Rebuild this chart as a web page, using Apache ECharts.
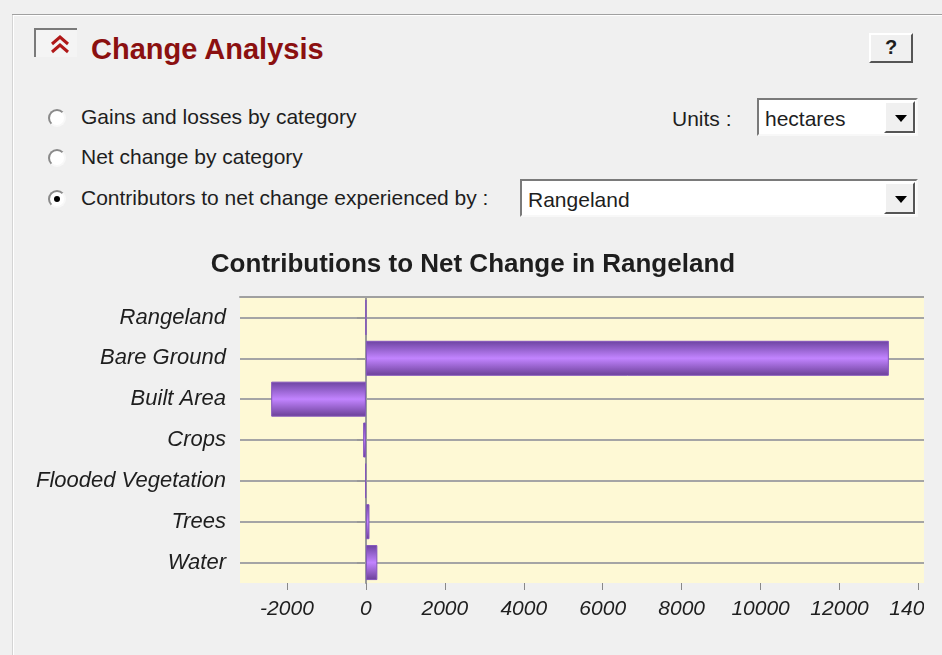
<!DOCTYPE html>
<html>
<head>
<meta charset="utf-8">
<title>Change Analysis</title>
<script src="https://cdn.jsdelivr.net/npm/echarts@6.0.0/dist/echarts.min.js"></script>
<style>
    html, body { margin:0; padding:0; }
    body { width:942px; height:655px; background:#f0f0f0; position:relative; overflow:hidden;
           font-family:"Liberation Sans", Arial, sans-serif; color:#1e1e1e; }
    .abs { position:absolute; }
    #topLine { left:12px; top:14px; width:930px; height:1px; background:#a0a0a0; border-bottom:1px solid #fff; }
    #leftLine { left:12px; top:15px; width:1px; height:640px; background:#d4d4d4; border-right:1px solid #fff; }
    #collapse { left:34px; top:28px; width:41px; height:27px; border-top:2px solid #7a7a7a; border-left:2px solid #7a7a7a; background:#f4f4f4; }
    #panelTitle { left:91px; top:33px; font-size:29px; font-weight:bold; color:#8b1010; }
    .radio { width:14px; height:14px; border-radius:50%; background:#fff; border:2px solid; border-color:#8a8a8a #f8f8f8 #f8f8f8 #8a8a8a; }
    .dot { left:4px; top:4px; width:6px; height:6px; border-radius:50%; background:#000; }
    .opt { font-size:21px; }
    .box { background:#fff; border:2px solid; border-color:#7a7a7a #f8f8f8 #f8f8f8 #7a7a7a; box-sizing:border-box; }
    .drop { top:1px; right:1px; width:31px; bottom:1px; background:#f0f0f0; box-sizing:border-box;
            border:2px solid; border-color:#fff #555 #555 #fff; }
    .tri { left:9px; top:12px; width:0; height:0; border-left:6px solid transparent; border-right:6px solid transparent; border-top:7px solid #000; }
    #help { left:869px; top:33px; width:44px; height:30px; box-sizing:border-box; background:#f0f0f0;
            border:2px solid; border-color:#fff #555 #555 #fff; text-align:center; font-weight:bold; font-size:20px; line-height:25px; }
    #chart { left:0; top:0; width:924px; height:655px; }
</style>
</head>
<body>
<div id="topLine" class="abs"></div>
<div id="leftLine" class="abs"></div>
<div id="collapse" class="abs">
    <svg width="41" height="27" style="position:absolute;left:0;top:0">
        <polyline points="16,14 24,7 32,14" fill="none" stroke="#b01818" stroke-width="3"/>
        <polyline points="16,22 24,15 32,22" fill="none" stroke="#b01818" stroke-width="3"/>
    </svg>
</div>
<div id="panelTitle" class="abs">Change Analysis</div>
<div id="help" class="abs">?</div>

<div class="abs radio" style="left:48px;top:109px"></div>
<div class="abs opt" style="left:81px;top:105px">Gains and losses by category</div>
<div class="abs radio" style="left:48px;top:149px"></div>
<div class="abs opt" style="left:81px;top:145px">Net change by category</div>
<div class="abs radio" style="left:48px;top:190px"><div class="abs dot"></div></div>
<div class="abs opt" style="left:81px;top:186px">Contributors to net change experienced by :</div>

<div class="abs opt" style="left:672px;top:107px">Units :</div>
<div class="abs box" style="left:757px;top:98px;width:161px;height:38px">
    <div class="abs opt" style="left:6px;top:7px">hectares</div>
    <div class="abs drop"><div class="abs tri"></div></div>
</div>
<div class="abs box" style="left:520px;top:179px;width:398px;height:38px">
    <div class="abs opt" style="left:6px;top:7px">Rangeland</div>
    <div class="abs drop"><div class="abs tri"></div></div>
</div>

<div id="chart" class="abs"></div>

<script>
var categories = ['Rangeland', 'Bare Ground', 'Built Area', 'Crops', 'Flooded Vegetation', 'Trees', 'Water'];
var netChange = [0, 13250, -2400, -70, -15, 90, 290];
var xTicks = [-2000, 0, 2000, 4000, 6000, 8000, 10000, 12000, 14000];
var xMin = -3190;
var xMax = 14140;

var chart = echarts.init(document.getElementById('chart'));

// purple "tube" look of the bars
var barColor = new echarts.graphic.LinearGradient(0, 0, 0, 1, [
    {offset: 0, color: '#6c43a0'},
    {offset: 0.5, color: '#c284ff'},
    {offset: 1, color: '#6a3f96'}
]);

var option = {
    animation: false,
    title: {
        text: 'Contributions to Net Change in Rangeland',
        left: 473,
        top: 252,
        textAlign: 'center',
        padding: 0,
        textStyle: {
            fontFamily: 'Liberation Sans',
            fontSize: 26,
            fontWeight: 'bold',
            color: '#1e1e1e'
        }
    },
    grid: {
        left: 240,
        top: 297,
        right: 0,
        bottom: 72,
        outerBoundsMode: 'none',
        show: true,
        backgroundColor: '#fef9d5',
        borderWidth: 0
    },
    xAxis: [
        {
            type: 'value',
            min: xMin,
            max: xMax,
            axisLine: {show: false},
            axisTick: {show: true, length: 7, customValues: xTicks, lineStyle: {color: '#888', width: 1}},
            axisLabel: {
                customValues: xTicks,
                formatter: function (v) { return String(v); },
                margin: 16,
                fontFamily: 'Liberation Sans',
                fontStyle: 'italic',
                fontSize: 21,
                color: '#1e1e1e'
            },
            splitLine: {show: false}
        },
        {
            // only used for the top border of the plot
            type: 'value',
            position: 'top',
            min: xMin,
            max: xMax,
            axisLine: {show: true, lineStyle: {color: '#a0a0a0', width: 2}},
            axisTick: {show: false},
            axisLabel: {show: false},
            splitLine: {show: false}
        }
    ],
    yAxis: {
        type: 'category',
        inverse: true,
        data: categories,
        axisLine: {show: true, lineStyle: {color: '#9a9a9a', width: 2}},
        axisTick: {show: true, alignWithLabel: true, length: 9, lineStyle: {color: '#9a9a9a', width: 2}},
        axisLabel: {
            margin: 14,
            fontFamily: 'Liberation Sans',
            fontStyle: 'italic',
            fontSize: 22,
            color: '#1e1e1e'
        },
        splitLine: {show: true, alignWithLabel: true, lineStyle: {color: '#a5a5a5', width: 2}}
    },
    series: [
        {
            name: 'Net change',
            type: 'bar',
            xAxisIndex: 0,
            barWidth: 35,
            data: netChange,
            itemStyle: {
                color: barColor,
                borderColor: '#8455bd',
                borderWidth: 1
            }
        }
    ]
};
chart.setOption(option);
</script>
</body>
</html>
